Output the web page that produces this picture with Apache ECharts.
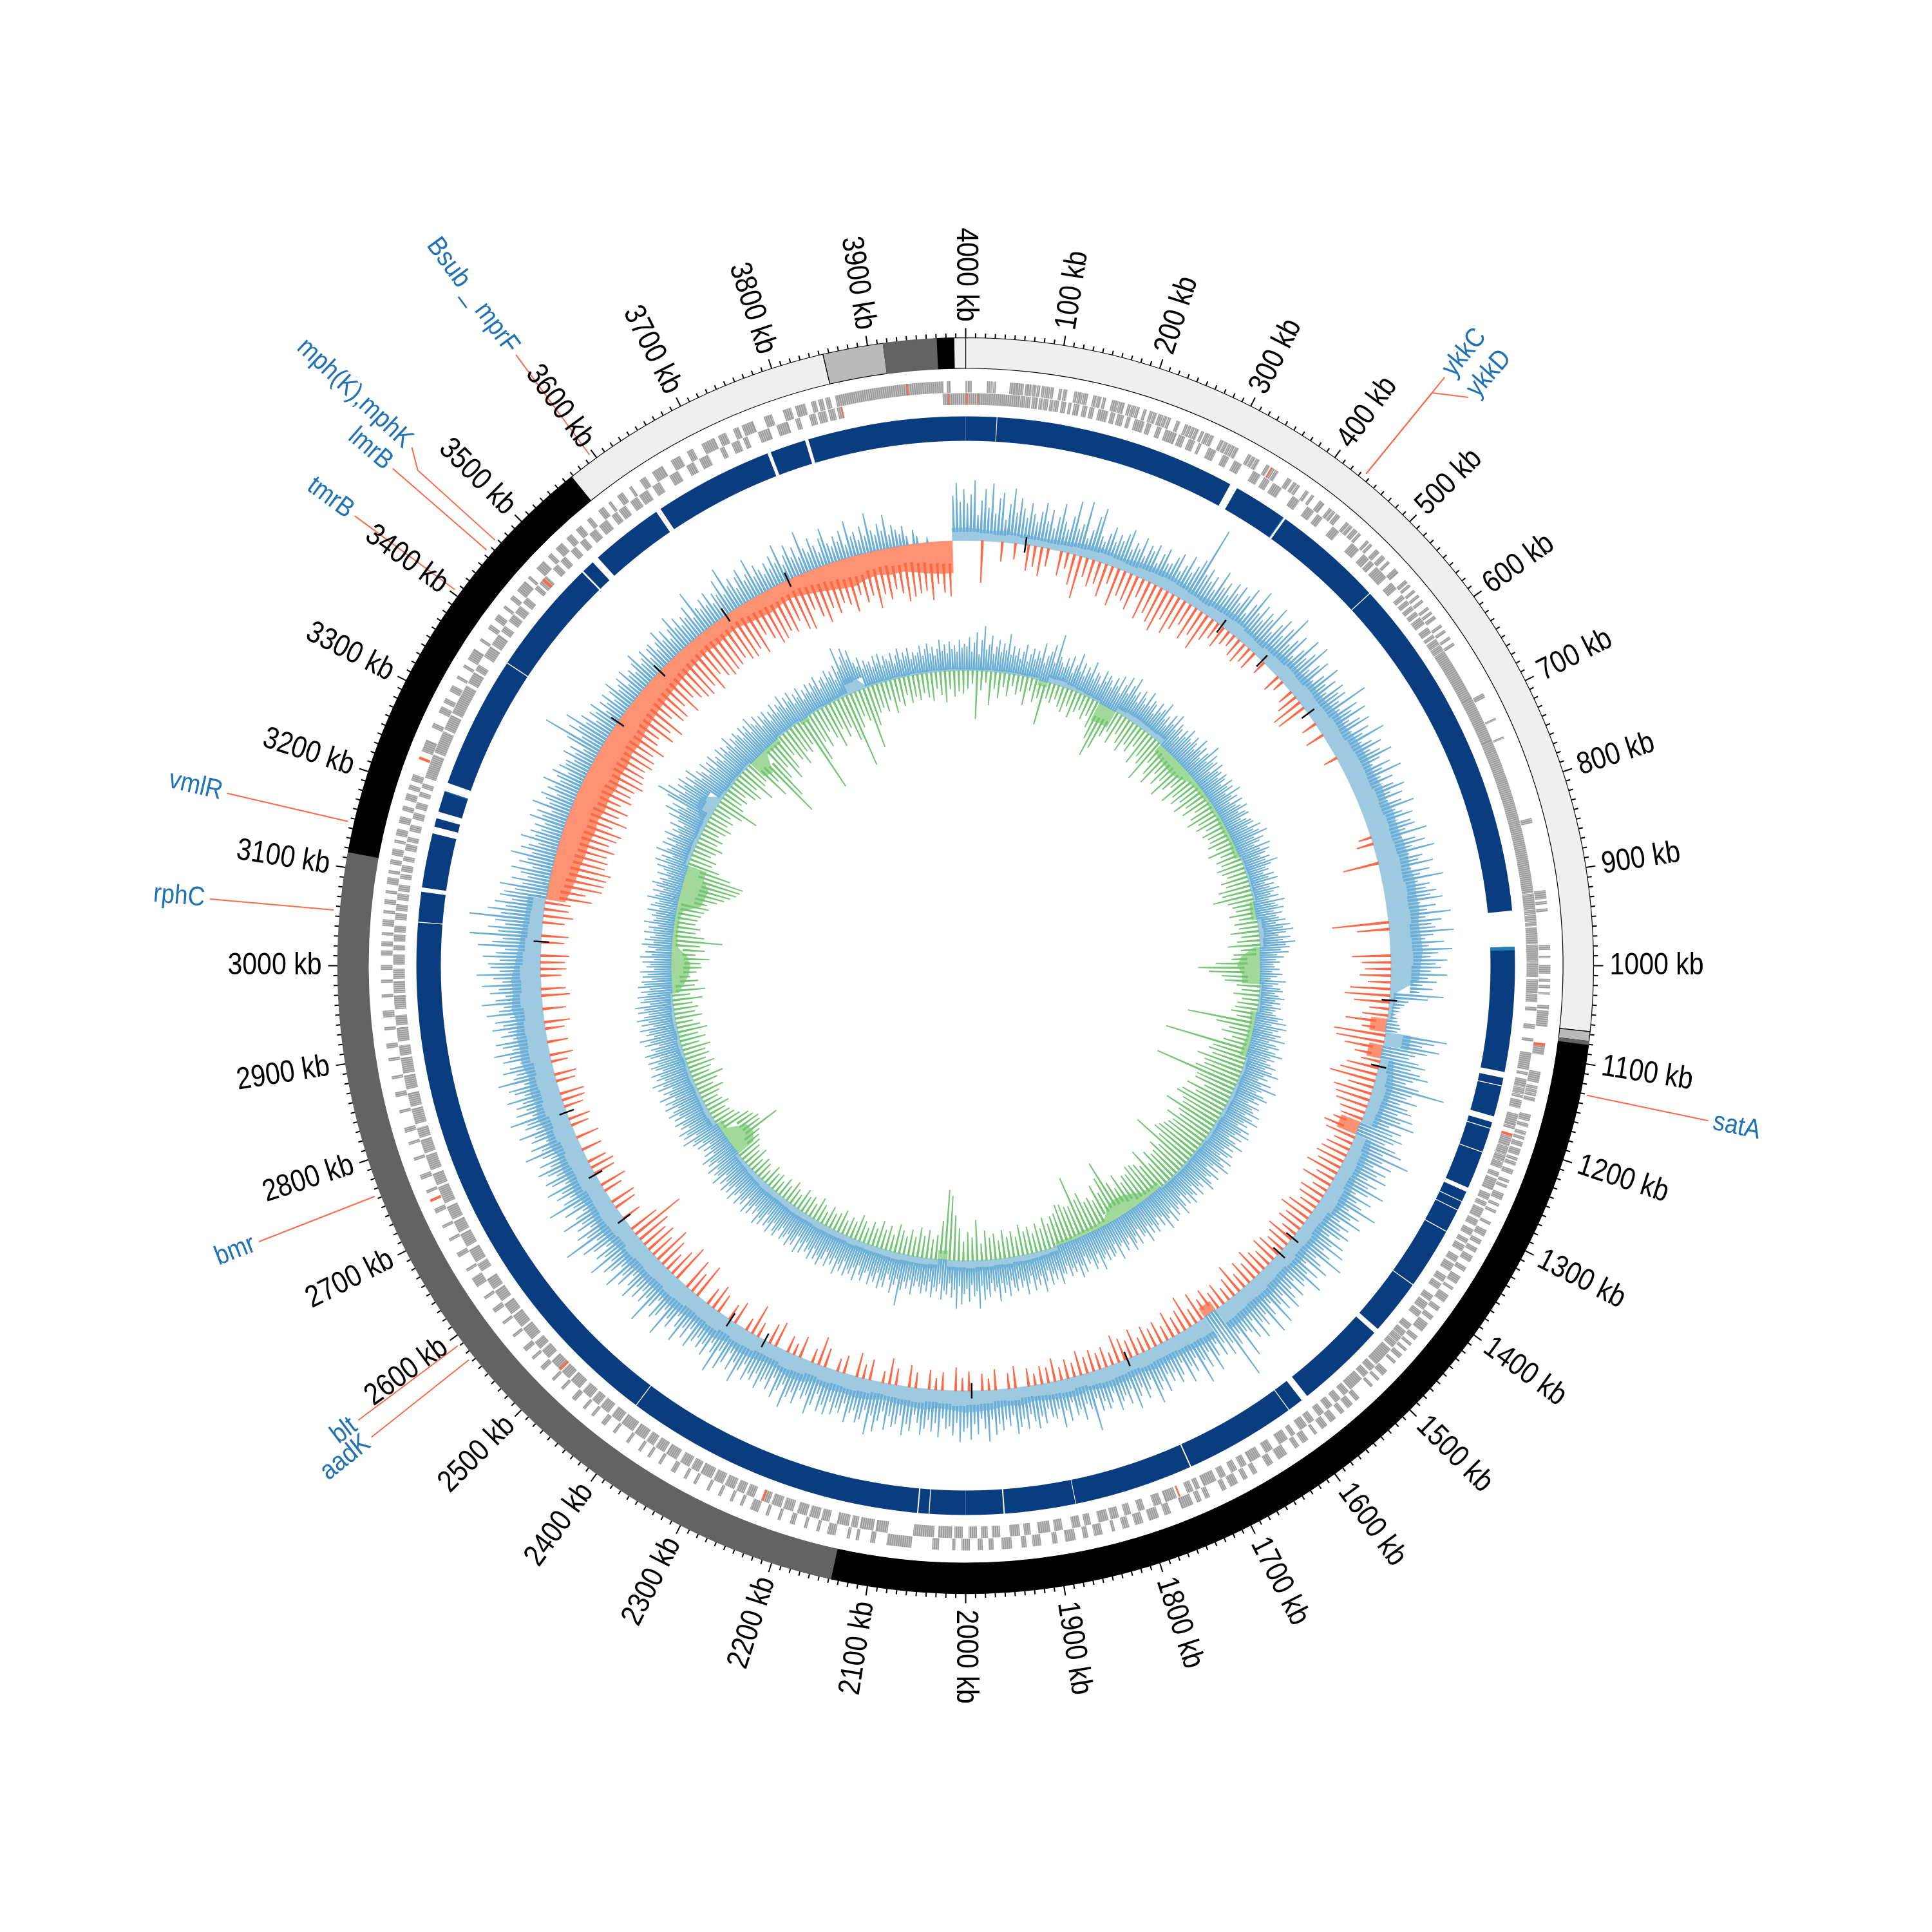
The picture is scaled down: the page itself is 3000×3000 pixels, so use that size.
<!DOCTYPE html>
<html><head><meta charset="utf-8">
<style>html,body{margin:0;padding:0;background:#fff}#c{width:3000px;height:3000px}</style>
<script src="https://cdn.jsdelivr.net/npm/echarts@6/dist/echarts.min.js"></script>
</head><body><div id="c"></div>
<script>
// ---------- values ----------
const genomeKb = 4000;
const tickLabels = [];
for (let k = 100; k <= 4000; k += 100) tickLabels.push(k);

// outer band track
const bandStart = [0,1067,1077,1081,2138,3116,3568,3854,3916,3971,3988];
const bandEnd   = [1067,1077,1081,2138,3116,3568,3854,3916,3971,3988,4000];
const bandStain = ['light','mid','dark','black','dark','black','light','mid','dark','black','light'];

// gaps in the contig ring
const contigGaps = [[36,36.8],[320,329],[393,395.5],[525.5,526.5],[936,978],[1124,1131],[1140,1141],[1177,1184],[1191,1192],[1220,1221],[1265,1270],[1282,1283],[1293,1294],[1321,1322],[1394,1395],[1460,1466],[1573,1581],[1599,1600],[1730.5,1732],[1871,1871.8],[1954.5,1956],[2042,2043],[2055,2056.5],[2409,2410],[3050,3051],[3086,3091],[3155,3163],[3173,3181],[3206,3216],[3371,3372],[3508,3510],[3525,3533],[3619,3625],[3765,3769],[3811,3815]];
const contigTeal = [[978,982],[392,393],[3205,3206]];

// genes, forward strand (outer row)
const genesFwd = [[0.5,1.2],[3,3.6],[5,6],[24,26],[28,29],[31,32.5],[49,53],[54,56],[57,63],[66,68],[69,72],[74,77],[79,81],[84,86],[88,92],[94,96],[103,105],[108,111],[120,122],[124,128],[130,134],[141,144],[146,149],[152,154],[162,168],[170,175],[180,182],[184,188],[190,192],[198,200],[205,207],[209,212],[215,219],[221,224],[226,228],[236,239],[246,248],[250,252],[254,256],[258,261],[265,267],[270,274],[276,279],[288,291],[293,296],[298,300],[302,304],[306,309],[322,325],[327,330],[332,335],[345,348],[352,354],[356,359],[372,376],[380,383],[385,387],[396,399],[404,406],[415,420],[428,431],[433,435],[438,442],[452,455],[457,460],[463,467],[470,472],[482,484],[487,489],[496,500],[505,509],[514,516],[525,530],[542,545],[548,550],[556,558],[563,565],[570,572],[580,582],[586,588],[592,595],[604,606],[611,613],[620,622],[628,630],[692,696],[722,723],[744,745],[838,842],[918,926],[930,932],[938,940],[978,982],[990,991],[1000,1008],[1015,1017],[1022,1024],[1030,1031],[1044,1047],[1050,1066],[1087,1097],[1117,1128],[1133,1135],[1137,1139],[1141,1143],[1146,1149],[1165,1171],[1175,1178],[1184,1187],[1190,1192],[1196,1200],[1204,1210],[1214,1216],[1219,1222],[1228,1232],[1240,1242],[1246,1248],[1256,1262],[1268,1270],[1276,1278],[1290,1292],[1300,1306],[1312,1316],[1322,1326],[1332,1338],[1346,1350],[1358,1366],[1372,1374],[1382,1390],[1398,1402],[1410,1414],[1420,1430],[1438,1442],[1448,1450],[1456,1458],[1464,1468],[1474,1476],[1488,1494],[1500,1502],[1510,1512],[1530,1534],[1540,1546],[1552,1556],[1564,1570],[1576,1582],[1590,1592],[1602,1608],[1614,1618],[1630,1640],[1648,1654],[1668,1672],[1680,1684],[1692,1700],[1706,1710],[1726,1730],[1736,1740],[1746,1758],[1772,1778],[1786,1796],[1804,1812],[1820,1826],[1836,1838],[1850,1858],[1866,1870],[1880,1890],[1900,1904],[1918,1926],[1934,1938],[1950,1960],[1970,1974],[1982,1986],[1996,2004],[2012,2014],[2030,2036],[2060,2086],[2100,2104],[2118,2120],[2128,2130],[2144,2152],[2162,2164],[2176,2178],[2190,2194],[2206,2208],[2220,2222],[2232,2240],[2250,2252],[2262,2264],[2276,2278],[2290,2292],[2306,2308],[2318,2320],[2332,2336],[2350,2352],[2364,2366],[2376,2378],[2392,2394],[2410,2412],[2424,2428],[2440,2442],[2452,2454],[2466,2470],[2484,2486],[2498,2500],[2514,2518],[2530,2532],[2542,2546],[2562,2564],[2580,2582],[2596,2600],[2614,2616],[2630,2640],[2650,2652],[2668,2672],[2688,2690],[2704,2706],[2722,2726],[2746,2748],[2762,2766],[2784,2786],[2802,2804],[2816,2820],[2838,2840],[2856,2860],[2876,2878],[2896,2898],[2910,2914],[2930,2932],[2944,2950],[2966,2968],[2982,2984],[2996,3000],[3012,3016],[3022,3026],[3034,3036],[3044,3050],[3058,3060],[3068,3072],[3080,3082],[3090,3096],[3102,3104],[3112,3116],[3122,3128],[3136,3138],[3144,3150],[3158,3164],[3172,3176],[3184,3190],[3196,3200],[3206,3212],[3240,3252],[3268,3272],[3286,3292],[3298,3302],[3312,3318],[3328,3330],[3342,3344],[3352,3364],[3376,3378],[3392,3396],[3404,3410],[3420,3422],[3432,3436],[3444,3456],[3462,3464],[3476,3486],[3494,3498],[3506,3514],[3522,3528],[3536,3542],[3552,3556],[3568,3574],[3582,3584],[3594,3600],[3610,3612],[3624,3630],[3640,3652],[3664,3674],[3684,3690],[3702,3716],[3722,3730],[3740,3745],[3750,3762],[3776,3784],[3798,3806],[3812,3822],[3830,3834],[3838,3842],[3846,3850],[3857,3975],[3980,3983]];

// genes, reverse strand (inner row)
const genesRev = [[0,60],[62,66],[68,72],[75,80],[83,86],[88,92],[95,98],[100,104],[108,112],[116,118],[122,127],[132,136],[140,144],[150,160],[164,168],[172,178],[183,186],[192,202],[206,210],[218,222],[228,240],[244,250],[256,262],[268,270],[280,288],[298,304],[312,320],[336,344],[350,356],[362,372],[388,396],[408,416],[422,428],[444,452],[472,482],[490,497],[500,505],[510,525],[534,542],[552,556],[560,564],[568,572],[576,580],[584,592],[598,604],[608,611],[614,620],[622,628],[630,690],[691,720],[721,742],[743,838],[839,918],[920,936],[938,942],[944,950],[952,955],[958,975],[977,995],[997,1012],[1016,1030],[1032,1040],[1047,1050],[1066,1070],[1082,1084],[1098,1116],[1120,1122],[1128,1136],[1138,1144],[1146,1148],[1152,1160],[1168,1180],[1182,1184],[1194,1204],[1206,1214],[1216,1222],[1224,1230],[1236,1240],[1244,1256],[1262,1268],[1272,1276],[1280,1290],[1294,1300],[1306,1312],[1318,1322],[1326,1332],[1340,1346],[1350,1358],[1366,1372],[1376,1382],[1392,1398],[1402,1410],[1414,1420],[1432,1438],[1442,1448],[1450,1456],[1458,1464],[1468,1490],[1494,1500],[1504,1510],[1514,1530],[1534,1540],[1546,1552],[1558,1564],[1570,1576],[1584,1590],[1594,1602],[1610,1614],[1620,1630],[1640,1648],[1656,1668],[1674,1680],[1686,1692],[1700,1706],[1712,1726],[1732,1736],[1740,1746],[1760,1772],[1778,1786],[1798,1804],[1814,1820],[1828,1836],[1840,1850],[1860,1866],[1872,1880],[1892,1900],[1906,1918],[1928,1934],[1940,1950],[1962,1970],[1976,1982],[1988,1996],[2004,2012],[2016,2030],[2036,2058],[2088,2100],[2104,2118],[2122,2128],[2132,2144],[2154,2162],[2166,2176],[2180,2190],[2196,2206],[2210,2220],[2224,2232],[2242,2250],[2254,2262],[2266,2276],[2280,2290],[2294,2306],[2310,2318],[2322,2332],[2338,2350],[2354,2364],[2368,2376],[2380,2392],[2396,2410],[2414,2424],[2430,2440],[2444,2452],[2456,2466],[2472,2484],[2488,2498],[2502,2514],[2520,2530],[2534,2542],[2548,2562],[2566,2580],[2584,2596],[2602,2614],[2618,2630],[2642,2650],[2654,2668],[2674,2688],[2692,2704],[2708,2722],[2728,2746],[2750,2762],[2768,2784],[2788,2802],[2806,2816],[2822,2838],[2842,2856],[2862,2876],[2880,2896],[2900,2910],[2916,2930],[2934,2944],[2952,2966],[2970,2982],[2986,2996],[3002,3012],[3018,3022],[3028,3034],[3038,3044],[3052,3058],[3062,3068],[3074,3080],[3084,3090],[3098,3102],[3106,3112],[3118,3122],[3130,3136],[3140,3144],[3152,3158],[3166,3172],[3178,3184],[3192,3196],[3202,3206],[3214,3240],[3244,3268],[3272,3288],[3292,3325],[3330,3342],[3346,3352],[3364,3376],[3380,3392],[3398,3404],[3412,3420],[3424,3432],[3438,3444],[3458,3462],[3466,3476],[3488,3494],[3500,3506],[3516,3522],[3530,3536],[3544,3552],[3558,3568],[3576,3582],[3586,3594],[3602,3610],[3614,3624],[3632,3640],[3654,3664],[3676,3684],[3692,3702],[3718,3722],[3732,3740],[3746,3750],[3764,3776],[3786,3798],[3808,3812],[3824,3830],[3834,3842],[3846,3852],[3856,3860],[3975,4000]];

// resistance genes shown in red: [start, end]
const amrFwd = [[3935,3936.5],[3230,3233],[1085,1088],[350,351.5],[2735,2738]];
const amrRev = [[0.3,2],[14,14.8],[3980,3981.5],[3860,3861.5],[3470,3473],[2230,2232.5],[2500,2503],[1755,1757],[1190,1193]];

// GC content: above-mean peaks per 5 kb
const gcUp = [
58,72,94,40,63,81,52,90,44,68,77,35,60,85,48,71,56,42,66,50,
38,55,70,42,61,33,52,74,47,36,58,83,41,50,87,30,45,68,83,40,
33,48,60,38,52,44,57,66,36,49,41,62,34,54,47,60,32,50,61,39,
42,55,64,37,50,69,44,58,72,128,53,66,48,60,40,75,51,63,45,70,
55,72,46,64,80,39,60,88,52,70,47,66,58,84,43,62,76,50,69,95,
48,62,74,40,58,83,52,66,86,44,60,72,38,55,78,49,64,42,70,57,
66,50,95,44,72,58,80,47,63,76,41,68,54,88,46,61,74,52,66,83,
60,45,72,56,85,48,66,40,62,78,52,70,44,64,82,50,59,74,43,67,
72,55,88,46,66,80,58,92,50,70,62,84,48,76,60,95,54,72,65,80,
70,88,52,76,62,98,58,82,66,72,100,68,55,84,60,96,74,62,88,70,
78,62,88,58,72,50,66,46,84,60,30,24,18,14,10,12,16,20,22,18,
97,78,60,88,70,52,44,60,72,50,66,80,58,48,70,112,62,55,74,48,
62,70,50,76,58,82,44,66,54,72,60,48,68,80,52,97,56,74,46,70,
58,76,48,66,54,84,60,42,72,50,62,90,46,68,56,78,44,64,52,72,
60,44,74,56,82,50,66,92,48,62,78,42,70,54,86,58,64,46,72,52,
66,80,50,72,58,88,46,64,92,54,70,60,84,48,76,62,56,96,52,68,
120,58,74,50,68,44,62,84,48,72,56,92,46,66,54,78,42,60,70,50,
62,48,74,54,66,85,44,58,70,50,62,80,46,68,52,60,72,42,56,64,
50,64,42,92,56,46,70,52,60,38,66,48,74,44,58,54,40,62,50,68,
56,44,66,50,62,72,42,58,48,64,54,70,46,80,60,44,68,52,76,58,
64,80,50,70,56,60,44,74,52,66,48,62,72,54,42,68,58,76,46,60,
66,50,72,44,60,78,54,85,48,64,70,52,58,74,46,62,56,68,50,72,
58,70,44,64,80,52,60,48,72,56,66,85,50,62,76,46,68,54,60,74,
52,66,58,72,48,62,84,54,70,44,64,78,50,90,60,46,72,56,66,52,
62,76,48,68,54,82,60,44,70,58,92,50,66,74,46,62,95,56,68,52,
70,54,80,62,46,72,58,86,50,66,76,56,92,60,72,48,68,84,54,107,
64,78,50,70,58,88,62,46,74,56,95,66,52,72,60,82,48,68,76,54,
66,80,56,72,50,62,88,58,74,46,68,60,84,54,70,64,90,52,76,58,
72,60,84,54,68,76,50,90,64,58,78,66,48,74,62,86,56,70,80,52,
70,58,82,64,76,52,88,68,60,94,72,56,80,66,92,60,74,100,64,78,
82,64,90,70,56,98,76,60,112,68,84,58,74,115,66,88,60,78,52,72,
66,50,75,40,58,34,46,62,30,52,40,68,36,55,44,30,60,38,48,32,
44,30,56,38,48,26,60,34,42,52,28,46,36,58,32,40,50,26,44,35,
38,26,48,30,42,22,54,95,34,60,46,72,40,52,28,44,36,50,24,40,
30,44,24,38,50,28,34,42,22,46,30,36,26,40,52,28,34,44,24,38,
42,26,36,52,30,44,24,38,56,32,46,28,40,34,50,26,68,36,30,44,
30,48,26,40,34,56,28,70,36,46,26,42,52,30,38,60,28,44,34,24,
40,28,46,32,60,24,38,52,30,44,26,65,36,28,48,34,22,42,56,30,
24,38,28,44,20,56,30,36,22,42,26,60,32,24,40,28,52,20,34,26,
18,30,14,0,22,12,0,0,6,0,0,0,0,0,0,0,70,90,60,80];

// GC content: below-mean peaks per 10 kb
const gcDown = [
0,0,65,0,0,30,0,25,0,40,
32,45,28,0,38,25,48,67,30,42,
35,52,28,60,40,45,55,30,62,48,
58,68,44,62,50,36,55,42,60,38,
28,36,24,20,30,34,26,30,0,22,
0,0,28,18,0,24,34,50,48,0,
0,24,0,30,0,0,0,22,0,0,
0,0,0,0,0,0,0,0,0,0,
20,26,0,0,56,0,0,0,0,0,
0,0,0,88,50,0,0,0,60,45,
40,48,35,62,70,55,30,40,65,38,
80,75,60,42,30,50,58,72,40,60,
54,50,40,35,44,55,48,30,38,42,
45,38,52,30,48,25,40,36,28,42,
50,34,40,26,44,36,30,38,42,28,
35,45,30,40,26,48,32,22,36,28,
40,30,46,25,52,34,28,42,24,36,
30,38,24,42,28,35,44,20,32,26,
34,26,38,22,30,20,36,24,28,18,
28,0,34,24,0,32,18,26,0,30,
20,36,0,28,18,30,0,24,34,0,
26,40,18,0,32,22,38,0,28,20,
0,30,45,22,0,34,18,26,0,40,
32,0,24,48,20,0,36,26,0,30,
40,28,0,55,34,50,0,60,44,30,
46,60,38,50,42,55,86,48,0,30,
0,35,40,0,30,42,0,34,38,30,
0,32,0,36,0,28,34,0,30,36,
38,0,30,34,0,26,36,0,32,0,
30,40,0,36,0,44,38,0,32,40,
38,44,0,36,42,0,34,46,38,40,
30,55,70,85,87,72,80,65,78,82,
72,85,90,68,80,75,86,70,82,78,
80,72,85,70,78,66,84,76,90,72,
68,88,72,92,64,80,70,60,74,66,
75,60,85,72,90,68,78,62,80,66,
72,58,82,66,75,60,70,85,62,74,
80,66,72,88,60,75,84,68,78,62,
70,85,62,76,68,90,60,78,66,72,
70,82,60,75,90,66,80,62,0,0];

// GC content: further below-mean peaks, 3105 to 3975 kb, per 10 kb
const gcDown2Start = 3105;
const gcDown2 = [
72,60,84,66,78,92,70,82,60,88,
76,66,88,72,92,62,80,70,84,60,
74,90,64,82,68,86,74,60,78,70,
64,84,76,90,58,72,80,66,86,62,
70,82,60,76,88,58,72,84,66,78,
60,80,68,74,86,56,72,64,82,70,
76,60,84,70,56,74,88,62,80,66,
72,86,58,76,66,84,70,80,60,74,
88,64,78,68,82,60,74,86];

// GC content: solid band per 20 kb (+ above, - below mean)
const gcBand = [
20,18,16,18,15, 15,14,16,18,20, 22,20,18,22,24, 26,24,22,20,24,
26,28,24,22,26, 28,32,30,34,32, 34,38,36,40,42, 42,40,44,42,46,
44,46,48,46,50, 48,50,46,48,50, 46,44,10,8,-25, 40,-22,20,25,30,
28,26,-32,26,30, 32,30,34,36,30, 28,32,30,34,30, 32,36,34,36,38,
-16,36,34,32,30, 30,32,28,30,32, 30,26,30,28,26, 24,28,26,30,32,
34,30,28,32,30, 28,26,30,32,30, 32,28,34,36,30, 30,34,36,32,38,
36,34,38,40,36, 38,36,40,34,38, 40,38,36,42,40, 42,38,44,40,46,
42,44,40,46,44, 46,42,48,44,46, 40,36,32,30,28, -30,-36,-40,-42,-45,
-45,-48,-46,-50,-48, -52,-48,-50,-46,-48, -44,-42,-40,-38,-36, -34,-32,-30,-28,-30,
-28,-26,-30,-32,-34, -30,-28,-32,-36,-40, -44,-46,-40,-38,-42, -40,-44,-48,-50,20];

// short black marks across the GC content baseline (kb)
const gcMarks = [90,411,491,596,1052,1152,1442,1472,1752,1991,2776,2673,2594,2373,2313,3725,3618,3389,3488,3036];

// GC skew: positive peaks per 5 kb
const skewUp = [
38,52,30,44,60,26,48,70,34,42,56,28,40,50,32,46,36,62,30,44,
30,42,26,38,50,24,36,46,30,44,34,58,28,40,48,60,32,78,44,36,
30,46,34,52,26,40,60,32,48,28,44,36,56,30,42,38,26,50,34,46,
40,30,48,36,55,28,44,60,34,50,65,38,46,30,52,42,34,58,36,48,
44,30,52,38,46,60,34,42,28,50,36,56,32,46,40,28,44,34,52,38,
34,48,40,30,54,36,46,28,42,60,32,50,38,44,26,48,36,40,30,44,
38,28,46,34,42,26,50,32,40,24,44,30,36,46,28,38,42,26,34,40,
42,30,50,36,44,56,32,46,38,28,52,34,48,40,30,44,36,54,42,32,
36,26,42,32,46,24,38,30,44,34,28,40,24,48,32,36,44,28,40,30,
34,44,28,50,38,54,42,30,48,36,55,40,46,32,44,26,36,24,30,20,
22,30,18,34,26,16,40,28,20,32,36,24,30,40,26,34,22,36,28,24,
30,42,34,48,26,50,38,30,44,36,52,28,40,46,30,42,54,36,44,32,
40,50,34,46,58,36,44,30,52,38,64,42,34,48,56,36,46,30,50,40,
44,56,34,48,60,38,46,32,54,42,58,36,50,30,44,59,38,48,34,52,
46,34,58,40,50,62,36,48,30,56,44,38,52,60,34,46,40,54,32,48,
42,56,36,50,30,48,60,38,44,52,34,58,40,46,62,36,50,32,44,54,
38,50,34,60,42,46,30,54,38,48,58,34,44,52,36,40,60,32,46,50,
36,52,40,46,62,34,48,56,38,44,30,54,42,60,36,48,40,52,34,46,
44,60,36,50,40,56,32,48,64,38,52,42,58,34,46,62,40,50,36,54,
48,36,60,42,54,38,66,44,50,36,58,46,62,40,75,48,56,38,64,44,
52,68,40,75,46,58,36,54,48,62,38,50,44,60,36,52,42,56,46,38,
46,60,38,52,42,56,81,40,50,64,44,36,58,48,62,38,54,46,60,40,
44,58,50,36,62,42,54,48,60,38,56,46,64,40,52,44,58,36,50,62,
48,56,40,60,46,52,38,58,44,62,36,54,48,60,42,50,56,38,46,58,
52,40,60,46,54,36,58,48,62,42,50,38,56,44,60,36,52,46,58,40,
48,60,38,54,44,58,42,52,36,60,46,50,40,56,34,48,42,54,30,44,
30,40,26,46,34,50,44,62,36,56,48,60,40,52,46,58,38,54,44,60,
50,40,60,46,56,38,62,44,52,36,58,48,64,42,54,46,60,40,50,56,
44,58,38,52,60,42,48,34,56,46,62,38,50,44,58,36,54,42,60,48,
40,56,46,60,36,50,44,54,38,48,34,52,42,46,30,44,36,48,26,38,
32,44,26,48,30,40,24,36,46,28,42,34,26,44,30,38,24,46,32,28,
36,30,44,26,40,34,28,48,36,30,42,26,38,46,30,36,24,42,28,34,
46,30,52,36,44,28,56,40,34,50,30,46,38,54,32,44,36,52,30,42,
60,44,70,50,62,40,76,95,60,82,54,70,60,74,48,66,52,72,44,58,
50,38,60,44,54,36,58,42,48,34,56,40,52,38,46,60,36,50,42,54,
46,36,54,40,50,34,58,44,38,52,30,46,36,48,28,42,34,50,32,44,
38,54,30,46,36,50,28,42,34,48,26,40,32,46,30,44,36,50,28,40,
44,32,50,38,46,30,52,40,78,48,60,72,52,66,44,36,50,30,42,34,
38,28,44,32,46,26,40,34,30,42,24,36,46,28,38,32,44,26,36,30,
34,44,28,38,46,30,40,26,36,50,32,42,28,46,34,40,30,48,36,42];

// GC skew: negative peaks per 10 kb
const skewDown = [
28,20,75,30,18,52,26,40,22,35,
18,30,24,44,20,36,28,69,25,30,
22,32,38,26,42,30,24,36,28,44,
60,86,70,46,34,50,30,42,52,36,
44,30,56,38,48,72,35,52,64,40,
55,42,66,48,36,60,44,52,40,56,
38,48,30,42,52,36,44,30,40,34,
34,40,30,46,28,38,32,42,36,30,
42,36,50,46,62,40,34,30,42,28,
36,30,44,28,35,50,30,42,45,70,
97,80,60,55,36,28,40,26,32,35,
40,30,106,60,38,48,30,42,133,55,
40,52,36,60,46,70,132,62,50,44,
58,46,72,55,64,48,80,60,52,73,
50,62,44,70,55,60,100,50,58,42,
48,56,40,62,44,52,58,40,50,46,
36,48,42,56,96,60,50,66,44,52,
48,40,58,97,52,44,60,36,50,46,
38,50,34,44,30,42,36,48,30,40,
32,44,28,40,34,46,26,63,36,44,
30,50,70,100,109,60,38,30,44,34,
46,30,40,28,36,44,26,38,30,42,
28,36,24,32,40,26,30,22,36,28,
24,32,20,28,36,22,30,26,34,20,
26,34,22,30,20,28,24,32,18,26,
30,22,36,28,34,40,44,50,88,60,
62,56,52,40,34,30,26,36,28,24,
30,40,26,36,48,28,34,42,30,38,
34,44,28,40,30,46,36,26,42,32,
38,30,46,28,52,36,42,30,40,48,
46,60,38,52,44,79,50,36,42,34,
36,40,44,50,46,60,70,78,86,90,
93,70,50,36,40,28,34,42,30,36,
26,34,40,30,36,28,44,67,38,30,
36,28,42,48,34,60,40,36,72,50,
118,90,60,44,70,56,36,50,62,44,
50,40,123,76,48,60,38,52,70,44,
60,48,72,117,56,40,50,96,62,44,
38,46,30,52,36,44,28,42,34,40,
30,38,44,26,36,48,28,40,32,36];

// GC skew: further negative peaks, 1205 to 1795 kb, per 10 kb
const skewDown2Start = 1205;
const skewDown2 = [
60,38,74,44,58,36,90,48,62,40,
70,52,44,78,40,60,86,46,54,36,
58,40,66,48,74,44,52,38,62,50,
42,58,36,70,46,54,40,60,34,52,
44,62,38,56,42,72,48,60,36,50,
46,66,40,58,34,54,44,62,38,48];

// GC skew: solid band per 20 kb
const skewBand = [
4,4,5,4,5, 5,4,5,-8,12, 13,10,8,6,5, -30,-28,10,13,14,
13,12,14,-14,-18, -20,-22,-18,-10,-8, -8,-6,-8,-6,-8, -8,-6,-8,5,5,
6,5,6,-6,-8, 10,12,9,-10,-30, -36,-28,5,5,6, -10,-8,-8,-8,-10,
6,8,6,8,9, 8,9,6,8,9, 6,5,5,6,6, 5,5,-10,-10,-12,
-20,-26,-28,-24,-10, -8,-8,-8,-6,-6, 10,12,13,14,13, 15,14,16,15,18,
16,15,-14,13,15, 15,14,16,15,14, 14,13,15,13,14, 14,15,13,14,15,
14,13,14,15,13, 12,10,9,-30,-40, -38,-10,10,12,10, 9,8,9,8,6,
8,9,6,8,8, 6,5,-10,-20,-28, -30,-26,-10,-8,-8, -8,-10,-36,-40,-42,
-30,8,9,10,9, 10,12,26,30,8, 5,6,5,6,-28, -34,-8,-8,5,4,
5,-6,4,5,4, 5,6,24,26,5, 5,4,5,4,5, 4,5,4,5,4];

// labelled genes
const geneNames  = ['ykkC','ykkD','satA','bmr','blt','aadK','rphC','vmlR','tmrB','lmrB','mph(K),mphK','Bsub _ mprF'];
const geneKb     = [435,435,1131,2763,2591,2573,3056,3146,3404,3455,3468,3596];
const geneEndKb  = [435,461,1131,2763,2591,2573,3056,3146,3404,3455,3479,3596];

// ---------- drawing ----------
const C = [1499.5, 1499.5];
const FONT = '"Liberation Sans",sans-serif';
const stainColor = {light:'#efefef', mid:'#bababa', dark:'#636363', black:'#000000'};

const P_RING = 0, P_GC = 1, P_SKEW = 2, P_NOTE = 3;
const polar = [
  {center:C, radius:[0,975]},
  {center:C, radius:[560,800]},
  {center:C, radius:[320,560]},
  {center:C, radius:[0,1320]}
];
const hidden = {axisLine:{show:false},axisTick:{show:false},axisLabel:{show:false},splitLine:{show:false},minorTick:{show:false},minorSplitLine:{show:false}};
const angleAxis = polar.map((_,i)=>Object.assign({polarIndex:i,type:'value',min:0,max:genomeKb,interval:100,startAngle:90,clockwise:true},hidden));
angleAxis[0] = {polarIndex:0,type:'value',min:0,max:genomeKb,interval:100,startAngle:90,clockwise:true,
  axisLine:{show:false},splitLine:{show:false},minorSplitLine:{show:false},axisLabel:{show:false},
  axisTick:{show:true,length:15,inside:false,lineStyle:{color:'#000',width:2}},
  minorTick:{show:true,splitNumber:10,length:7,lineStyle:{color:'#000',width:2}}};
const radiusAxis = [
  Object.assign({polarIndex:0,type:'value',min:0,max:975},hidden),
  Object.assign({polarIndex:1,type:'value',min:-100,max:140},hidden),
  Object.assign({polarIndex:2,type:'value',min:-138,max:102},hidden),
  Object.assign({polarIndex:3,type:'value',min:0,max:1320},hidden)
];

function custom(polarIndex, z, data, renderItem){
  return {type:'custom',coordinateSystem:'polar',polarIndex,z,data,renderItem,clip:false,silent:true,animation:false,progressive:0,encode:{radius:0,angle:1}};
}
function sectorEl(params, api, r0, r1, k0, k1, style){
  const cs = params.coordSys, a = api.coord([r1,k0]), b = api.coord([r1,k1]), c = api.coord([r0,k0]);
  let s = Math.atan2(a[1]-cs.cy,a[0]-cs.cx), e = Math.atan2(b[1]-cs.cy,b[0]-cs.cx);
  if (e <= s) e += Math.PI*2;
  return {type:'sector',shape:{cx:cs.cx,cy:cs.cy,
    r:Math.hypot(a[0]-cs.cx,a[1]-cs.cy), r0:Math.hypot(c[0]-cs.cx,c[1]-cs.cy),
    startAngle:s,endAngle:e,clockwise:true},style};
}
function ringSeries(z, list, r0, r1, styleOf){
  return custom(P_RING, z, list.map((d,i)=>[r0,d[0],d[1],i]), (params,api)=>
    sectorEl(params,api,r0,r1,api.value(1),api.value(2),styleOf(api.value(3))));
}
// gene row: a gray block, slightly widened, with a fine hatch standing for its closely packed genes
function geneRow(z, list, r0, r1){
  return custom(P_RING, z, list.map(d=>[r0,d[0],d[1]]), (params,api)=>{
    const k0 = api.value(1)-0.7, k1 = api.value(2)+0.7;
    const kids = [sectorEl(params,api,r0,r1,k0,k1,{fill:'#9c9c9c'})];
    for (let k = k0+1.5; k < k1-0.5; k += 2.3) {
      const a = api.coord([r0,k]), b = api.coord([r1,k]);
      kids.push({type:'line',shape:{x1:a[0],y1:a[1],x2:b[0],y2:b[1]},style:{stroke:'#ffffff',lineWidth:0.9,opacity:0.55}});
    }
    return {type:'group',children:kids};
  });
}
function spikes(polarIndex, z, values, bin, first, sign, half, color, width, bandArr){
  return custom(polarIndex, z, values.map((v,i)=>[sign*v,first+i*bin]), (params,api)=>{
    const v = api.value(0), k = api.value(1);
    if (!v) return null;
    const b = bandArr[Math.min(bandArr.length-1,Math.floor(k/20))];
    const base = b*v>0 ? b*0.72 : 0;
    if (Math.abs(v)<=Math.abs(base)) return null;
    return {type:'polygon',shape:{points:[api.coord([base,k-half]),api.coord([v,k]),api.coord([base,k+half])]},
      style:{fill:color,stroke:color,lineWidth:width}};
  });
}
function band(polarIndex, z, values, bin, upColor, downColor){
  return custom(polarIndex, z, values.map((v,i)=>[v,i*bin,i]), (params,api)=>{
    const v = api.value(0), k = api.value(1), i = api.value(2);
    let n = values[i+1]; if (n === undefined || n*v < 0) n = v;
    const col = v>0?upColor:downColor;
    return {type:'polygon',shape:{points:[api.coord([0,k]),api.coord([v,k]),api.coord([n,k+bin]),api.coord([0,k+bin])]},
      style:{fill:col,stroke:col,lineWidth:0.6}};
  });
}

const series = [];
// outer bands
series.push(ringSeries(2, bandStart.map((s,i)=>[s,bandEnd[i]]), 927.5, 975, i=>{
  const st = bandStain[i];
  return {fill:stainColor[st], stroke: st==='black'||st==='dark' ? stainColor[st] : '#000', lineWidth: 1.2};
}));
// genes
series.push(geneRow(3, genesFwd, 890, 908));
series.push(geneRow(3, genesRev, 871, 889));
series.push(ringSeries(4, amrFwd, 890, 908, ()=>({fill:'#fb6a4a'})));
series.push(ringSeries(4, amrRev, 871, 889, ()=>({fill:'#fb6a4a'})));
// contig ring
series.push(ringSeries(3, [[0,2000],[2000,4000]], 815, 853, ()=>({fill:'#0a3d7f'})));
series.push(ringSeries(4, contigGaps, 812, 856, ()=>({fill:'#ffffff'})));
series.push(ringSeries(5, contigTeal, 815, 853, ()=>({fill:'#1f7fb5'})));
// GC content
series.push(band(P_GC, 6, gcBand, 20, '#9ecae1', '#fc9272'));
series.push(spikes(P_GC, 7, gcUp, 5, 2.5, 1, 1.1, '#6baed6', 1.8, gcBand));
series.push(spikes(P_GC, 7, gcDown, 10, 5, -1, 1.2, '#fb6a4a', 1.8, gcBand));
series.push(spikes(P_GC, 7, gcDown2, 10, gcDown2Start, -1, 1.2, '#fb6a4a', 1.8, gcBand));
series.push(custom(P_GC, 8, gcMarks.map(k=>[k]), (params,api)=>{
  const k = api.value(0), a = api.coord([-12,k]), b = api.coord([12,k]);
  return {type:'line',shape:{x1:a[0],y1:a[1],x2:b[0],y2:b[1]},style:{stroke:'#000',lineWidth:2.5}};
}));
// GC skew
series.push(band(P_SKEW, 6, skewBand, 20, '#9ecae1', '#a1d99b'));
series.push(spikes(P_SKEW, 7, skewUp, 5, 2.5, 1, 1.1, '#6baed6', 1.8, skewBand));
series.push(spikes(P_SKEW, 7, skewDown, 10, 5, -1, 1.3, '#74c476', 1.8, skewBand));
series.push(spikes(P_SKEW, 7, skewDown2, 10, skewDown2Start, -1, 1.3, '#74c476', 1.8, skewBand));

// radial text
function radial(api, params, r, k, text, color, size, squeeze){
  const cs = params.coordSys, p = api.coord([r,k]);
  const phi = Math.atan2(p[1]-cs.cy,p[0]-cs.cx);
  const right = k>0 && k<=2000;
  return {type:'text',x:p[0],y:p[1],rotation:right?-phi:-(phi+Math.PI),scaleX:squeeze,
    style:{text,x:0,y:0,fill:color,font:size+'px '+FONT,align:right?'left':'right',verticalAlign:'middle'}};
}
series.push(custom(P_NOTE, 10, tickLabels.map(k=>[1000,k]), (params,api)=>
  radial(api,params,api.value(0),api.value(1),api.value(1)+' kb','#000',48,0.855)));

// gene links and labels
series.push(custom(P_NOTE, 9, geneKb.map((k,i)=>[985,k,geneEndKb[i]]), (params,api)=>{
  const k = api.value(1), e = api.value(2);
  const pts = e===k ? [api.coord([985,k]),api.coord([1178,k])]
                    : [api.coord([985,k]),api.coord([1147,k]),api.coord([1178,e])];
  return {type:'polyline',shape:{points:pts},style:{fill:null,stroke:'#fb6a4a',lineWidth:2}};
}));
series.push(custom(P_NOTE, 10, geneEndKb.map((k,i)=>[1186,k,i]), (params,api)=>
  radial(api,params,api.value(0),api.value(1),geneNames[api.value(2)],'#2171b5',42,0.88)));

const chart = echarts.init(document.getElementById('c'),null,{width:3000,height:3000,renderer:'canvas'});
chart.setOption({backgroundColor:'#ffffff',animation:false,polar,angleAxis,radiusAxis,series});
</script></body></html>
